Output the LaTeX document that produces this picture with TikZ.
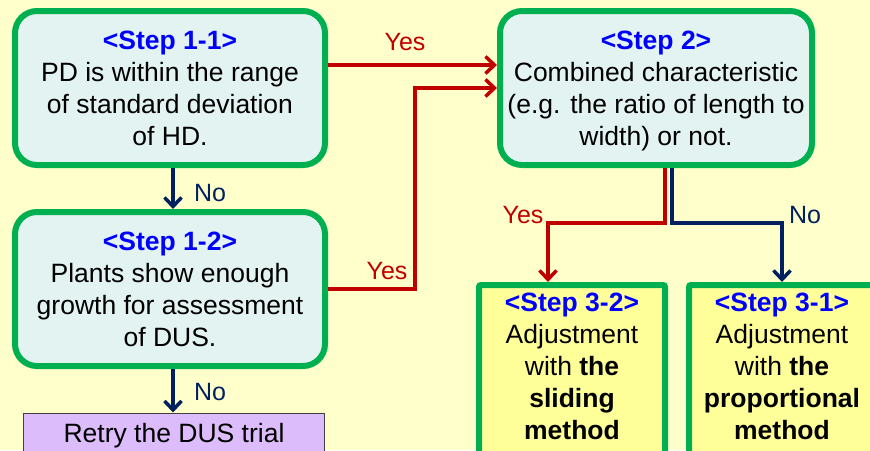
\documentclass[tikz,border=0pt]{standalone}
\usepackage{fontspec}
\setmainfont{Liberation Sans}
\usetikzlibrary{arrows.meta,calc}
\definecolor{bg}{HTML}{FFFFCC}
\definecolor{boxgreen}{HTML}{00B050}
\definecolor{boxfill}{HTML}{E3F3F1}
\definecolor{yelfill}{HTML}{FFFF99}
\definecolor{titleblue}{HTML}{0000FF}
\definecolor{linered}{HTML}{C00000}
\definecolor{lineblue}{HTML}{002060}
\definecolor{retryfill}{HTML}{DCBCFA}
\definecolor{retryline}{HTML}{404040}
\newcommand\steptitle[1]{{\color{titleblue}\bfseries #1}}
\begin{document}
\begin{tikzpicture}[x=1pt,y=-1pt,
  every node/.style={font=\fontsize{26.5}{32}\selectfont},
  stepbox/.style={draw=boxgreen, line width=6pt, fill=boxfill, rounded corners=22pt,
    align=center, inner sep=0pt, minimum height=154pt},
  adjbox/.style={draw=boxgreen, line width=6pt, fill=yelfill, rounded corners=2pt,
    inner sep=0pt, minimum width=186pt, minimum height=200pt},
  adjtext/.style={align=center, inner sep=0pt, anchor=north},
  retrybox/.style={draw=retryline, line width=1pt, fill=retryfill, inner sep=0pt,
    minimum width=301pt, minimum height=46pt},
  yesline/.style={draw=linered, line width=3.5pt, -{Straight Barb[length=9pt,width=17pt]}},
  noline/.style={draw=lineblue, line width=3.5pt, -{Straight Barb[length=9pt,width=17pt]}},
  yeslbl/.style={font=\fontsize{25}{28}\selectfont, text=linered, anchor=base, inner sep=0pt},
  nolbl/.style={font=\fontsize{25}{28}\selectfont, text=lineblue, anchor=base, inner sep=0pt}]
\useasboundingbox (0,0) rectangle (870,450);
\clip (0,0) rectangle (870,450);
\fill[bg] (0,0) rectangle (870,450);

% boxes
\node[stepbox, minimum width=310pt] (s11) at (170,88)
  {\steptitle{<Step 1-1>}\\PD is within the range\\of standard deviation\\of HD.};
\node[stepbox, minimum width=310pt] (s12) at (170,289)
  {\steptitle{<Step 1-2>}\\Plants show enough\\growth for assessment\\of DUS.};
\node[stepbox, minimum width=312pt] (s2) at (656,88)
  {\rule{0pt}{25pt}\steptitle{<Step 2>}\\Combined characteristic\\(e.g. the ratio of length to\\width) or not.};
\node[retrybox] (retry) at (174,436) {Retry the DUS trial};

\node[adjbox] (s32) at (572,385) {};
\node[adjbox] (s31) at (782,385) {};
\node[adjtext] (t32) at (572,293)
  {\steptitle{<Step 3-2>}\\Adjustment\\with \textbf{the}\\\textbf{sliding}\\\textbf{method}};
\node[adjtext] (t31) at (782,293)
  {\steptitle{<Step 3-1>}\\Adjustment\\with \textbf{the}\\\textbf{proportional}\\\textbf{method}};

% connectors
\draw[noline] ([xshift=3pt]s11.south) -- ([xshift=3pt]s12.north);
\draw[noline] ([xshift=3pt]s12.south) -- ([xshift=3pt]s12.south |- retry.north);
\draw[yesline] ([yshift=23pt]s11.east) -- ([yshift=23pt]s11.east -| s2.west);
\coordinate (j2) at (415,289);
\draw[yesline] (s12.east) -- (j2) |- (s2.west);
\coordinate (rc) at (548,223);
\coordinate (bc) at (782,223);
\draw[yesline] ([xshift=9pt]s2.south) |- (rc) -- (rc |- s32.north);
\draw[noline] ([xshift=16pt]s2.south) |- (bc) -- (bc |- s31.north);

% labels
\node[yeslbl] (ly1) at (405,50) {Yes};
\node[yeslbl] (ly2) at (387,279) {Yes};
\node[yeslbl] (ly3) at (523,223) {Yes};
\node[nolbl] (ln1) at (210,201) {No};
\node[nolbl] (ln2) at (210,400) {No};
\node[nolbl] (ln3) at (805,223) {No};
\end{tikzpicture}
\end{document}
